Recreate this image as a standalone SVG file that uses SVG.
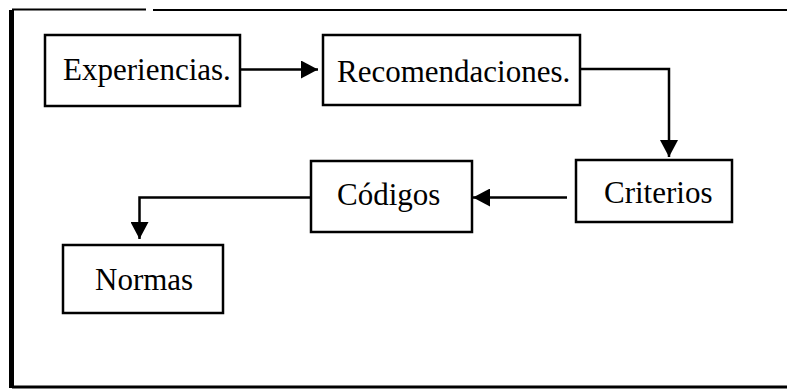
<svg xmlns="http://www.w3.org/2000/svg" width="787" height="390" viewBox="0 0 787 390">
<style>
.box{fill:#fff;stroke:#000;stroke-width:2.5}
.lbl{font-family:"Liberation Serif","Times New Roman",serif;font-size:31px;fill:#000}
.con{fill:none;stroke:#000;stroke-width:2.5}
.frame{stroke:#000;fill:none}
</style>
<defs>
<marker id="ah" markerUnits="userSpaceOnUse" markerWidth="18" markerHeight="18" viewBox="0 0 18 18" refX="17" refY="9" orient="auto">
<path d="M0,0 L17,9 L0,18 z" fill="#000"/>
</marker>
</defs>
<rect width="787" height="390" fill="#fff"/>
<g id="frame">
<line class="frame" x1="12" y1="9.5" x2="146" y2="9.5" stroke-width="2"/>
<line class="frame" x1="153" y1="10" x2="787" y2="10" stroke-width="2"/>
<line class="frame" x1="12" y1="387" x2="787" y2="387" stroke-width="3"/>
<line class="frame" x1="11.5" y1="10" x2="11.5" y2="388" stroke-width="5"/>
</g>
<g id="connectors">
<path class="con" d="M240,69.5 L318,69.5" marker-end="url(#ah)"/>
<path class="con" d="M580,69 L669,69 L669,157" marker-end="url(#ah)"/>
<path class="con" d="M567,197.5 L473,197.5" marker-end="url(#ah)"/>
<path class="con" d="M311,197.5 L139.5,197.5 L139.5,239" marker-end="url(#ah)"/>
</g>
<g id="experiencias">
<rect class="box" x="45" y="35" width="195" height="71"/>
<text class="lbl" x="63" y="80">Experiencias.</text>
</g>
<g id="recomendaciones">
<rect class="box" x="323" y="35" width="257" height="70"/>
<text class="lbl" x="337" y="82">Recomendaciones.</text>
</g>
<g id="criterios">
<rect class="box" x="576" y="160" width="156" height="62"/>
<text class="lbl" x="604" y="203">Criterios</text>
</g>
<g id="codigos">
<rect class="box" x="311" y="161" width="161" height="71"/>
<text class="lbl" x="337" y="205">Códigos</text>
</g>
<g id="normas">
<rect class="box" x="63" y="245" width="160" height="68"/>
<text class="lbl" x="95" y="290">Normas</text>
</g>
</svg>
